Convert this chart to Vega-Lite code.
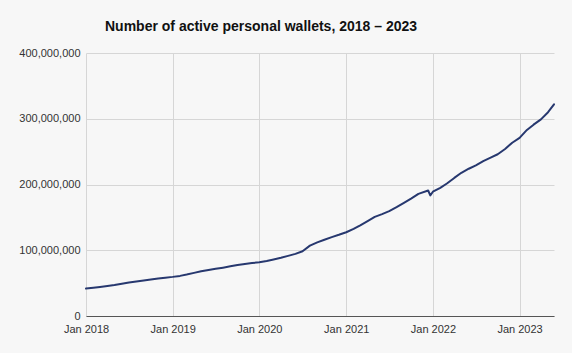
{
  "$schema": "https://vega.github.io/schema/vega-lite/v6.json",
  "autosize": "none",
  "width": 468,
  "height": 263,
  "padding": {"left": 86, "top": 53, "right": 18, "bottom": 37},
  "background": "#f7f7f7",
  "title": {
    "text": "Number of active personal wallets, 2018 – 2023",
    "anchor": "start",
    "frame": "group",
    "dx": 19,
    "offset": 13,
    "font": "Liberation Sans",
    "fontSize": 14,
    "fontWeight": "bold",
    "color": "#111111"
  },
  "config": {
    "view": {"stroke": null},
    "axis": {
      "labelFont": "Liberation Sans",
      "labelFontSize": 11,
      "labelColor": "#333333",
      "gridColor": "#d6d6d6",
      "gridWidth": 1,
      "ticks": false,
      "title": null
    }
  },
  "data": {
    "values": [
      {"date": "2018-01-01", "wallets": 41.7},
      {"date": "2018-02-01", "wallets": 43.0},
      {"date": "2018-03-01", "wallets": 44.2},
      {"date": "2018-04-01", "wallets": 45.5},
      {"date": "2018-05-01", "wallets": 47.0},
      {"date": "2018-06-01", "wallets": 49.0},
      {"date": "2018-07-01", "wallets": 51.0},
      {"date": "2018-08-01", "wallets": 52.5},
      {"date": "2018-09-01", "wallets": 54.0},
      {"date": "2018-10-01", "wallets": 55.5},
      {"date": "2018-11-01", "wallets": 57.0},
      {"date": "2018-12-01", "wallets": 58.3},
      {"date": "2019-01-01", "wallets": 59.5},
      {"date": "2019-02-01", "wallets": 61.0},
      {"date": "2019-03-01", "wallets": 63.0},
      {"date": "2019-04-01", "wallets": 65.6},
      {"date": "2019-05-01", "wallets": 68.0},
      {"date": "2019-06-01", "wallets": 70.0},
      {"date": "2019-07-01", "wallets": 71.7},
      {"date": "2019-08-01", "wallets": 73.5},
      {"date": "2019-09-01", "wallets": 75.5},
      {"date": "2019-10-01", "wallets": 77.5},
      {"date": "2019-11-01", "wallets": 79.0},
      {"date": "2019-12-01", "wallets": 80.5},
      {"date": "2020-01-01", "wallets": 81.7},
      {"date": "2020-02-01", "wallets": 83.5},
      {"date": "2020-03-01", "wallets": 85.8},
      {"date": "2020-04-01", "wallets": 88.5},
      {"date": "2020-05-01", "wallets": 91.5},
      {"date": "2020-06-01", "wallets": 94.5},
      {"date": "2020-07-01", "wallets": 98.5},
      {"date": "2020-08-01", "wallets": 107.0},
      {"date": "2020-09-01", "wallets": 112.0},
      {"date": "2020-10-01", "wallets": 116.0},
      {"date": "2020-11-01", "wallets": 120.0},
      {"date": "2020-12-01", "wallets": 123.5},
      {"date": "2021-01-01", "wallets": 127.4},
      {"date": "2021-02-01", "wallets": 132.6},
      {"date": "2021-03-01", "wallets": 138.0},
      {"date": "2021-04-01", "wallets": 144.4},
      {"date": "2021-05-01", "wallets": 150.8},
      {"date": "2021-06-01", "wallets": 155.0},
      {"date": "2021-07-01", "wallets": 159.4},
      {"date": "2021-08-01", "wallets": 165.5},
      {"date": "2021-09-01", "wallets": 172.0},
      {"date": "2021-10-01", "wallets": 178.5},
      {"date": "2021-11-01", "wallets": 185.8},
      {"date": "2021-12-12", "wallets": 190.9},
      {"date": "2021-12-21", "wallets": 183.5},
      {"date": "2022-01-01", "wallets": 189.0},
      {"date": "2022-02-01", "wallets": 195.0},
      {"date": "2022-03-01", "wallets": 201.5},
      {"date": "2022-04-01", "wallets": 210.0},
      {"date": "2022-05-01", "wallets": 217.8},
      {"date": "2022-06-01", "wallets": 224.0},
      {"date": "2022-07-01", "wallets": 229.0},
      {"date": "2022-08-01", "wallets": 235.5},
      {"date": "2022-09-01", "wallets": 241.0},
      {"date": "2022-10-01", "wallets": 246.0},
      {"date": "2022-11-01", "wallets": 254.0},
      {"date": "2022-12-01", "wallets": 263.5},
      {"date": "2023-01-01", "wallets": 271.0},
      {"date": "2023-02-01", "wallets": 283.0},
      {"date": "2023-03-01", "wallets": 291.0},
      {"date": "2023-04-01", "wallets": 299.0},
      {"date": "2023-05-01", "wallets": 310.0},
      {"date": "2023-05-26", "wallets": 321.8}
    ]
  },
  "mark": {"type": "line", "color": "#27386f", "strokeWidth": 2, "strokeJoin": "round", "strokeCap": "round"},
  "encoding": {
    "x": {
      "field": "date",
      "type": "temporal",
      "scale": {"nice": false},
      "axis": {
        "format": "%b %Y",
        "tickCount": {"interval": "year", "step": 1},
        "labelPadding": 7,
        "domainColor": "#555555",
        "domainWidth": 1.2,
        "labelFlush": false
      }
    },
    "y": {
      "field": "wallets",
      "type": "quantitative",
      "scale": {"domain": [0, 400]},
      "axis": {
        "values": [0, 100, 200, 300, 400],
        "labelExpr": "format(datum.value * 1000000, ',')",
        "labelPadding": 6,
        "domain": false
      }
    }
  }
}
